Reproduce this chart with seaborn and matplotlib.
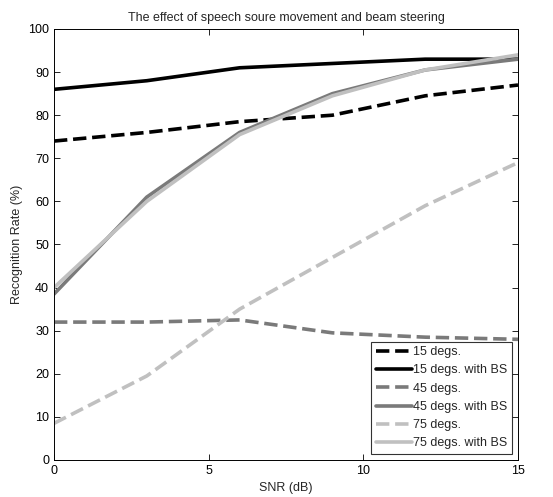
import matplotlib
matplotlib.use("Agg")
import matplotlib.pyplot as plt
import seaborn as sns
import pandas as pd

snr = [0, 3, 6, 9, 12, 15]
deg15 = [74, 76, 78.5, 80, 84.5, 87]
deg15_bs = [86, 88, 91, 92, 93, 93]
deg45 = [32, 32, 32.5, 29.5, 28.5, 28]
deg45_bs = [38.5, 61, 76, 85, 90.5, 93]
deg75 = [8.5, 19.5, 35, 47, 59, 69]
deg75_bs = [40, 60, 75.5, 84.5, 90.5, 94]

labels = ["15 degs.", "15 degs. with BS", "45 degs.", "45 degs. with BS",
          "75 degs.", "75 degs. with BS"]
series = [deg15, deg15_bs, deg45, deg45_bs, deg75, deg75_bs]
colors = ["#000000", "#000000", "#7a7a7a", "#7a7a7a", "#c0c0c0", "#c0c0c0"]
styles = ["--", "-", "--", "-", "--", "-"]

sns.set_theme(style="white")
plt.rcParams['font.family'] = ['Liberation Sans', 'DejaVu Sans']

fig = plt.figure(figsize=(5.53, 4.97), dpi=100)
ax = fig.add_axes([54/553, 1-460/497, (518-54)/553, (460-29)/497])

for lab, vals, c, ls in zip(labels, series, colors, styles):
    df = pd.DataFrame({"SNR": snr, "Rate": vals})
    sns.lineplot(data=df, x="SNR", y="Rate", ax=ax, color=c, linestyle=ls,
                 linewidth=2.6, label=lab)

ax.set_xlim(0, 15)
ax.set_ylim(0, 100)
ax.set_xticks([0, 5, 10, 15])
ax.set_yticks(range(0, 101, 10))
ax.tick_params(direction="in", length=4, width=0.6, labelsize=9,
               top=True, right=True, bottom=True, left=True, colors="black")
for s in ax.spines.values():
    s.set_color("black")
    s.set_linewidth(0.7)
ax.set_xlabel("SNR (dB)", fontsize=9)
ax.set_ylabel("Recognition Rate (%)", fontsize=9)
ax.set_title("The effect of speech soure movement and beam steering", fontsize=9, pad=6)

leg = ax.legend(loc="lower right", fontsize=9, frameon=True, fancybox=False,
                handlelength=2.9, handletextpad=0.1, borderaxespad=0.5,
                labelspacing=0.5, borderpad=0.35)
leg.get_frame().set_edgecolor("black")
leg.get_frame().set_linewidth(0.8)

fig.savefig("out.png", dpi=100)
